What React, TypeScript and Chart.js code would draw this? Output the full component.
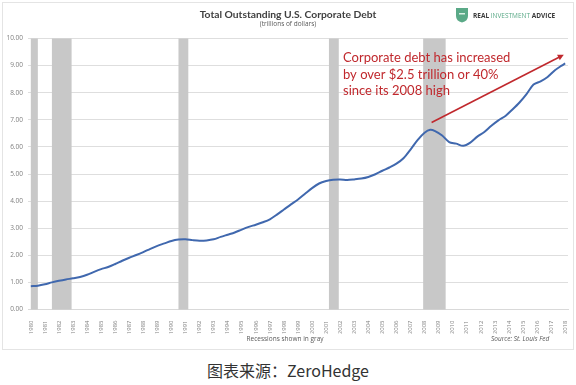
import React, { useEffect, useRef } from "react";
import { Chart, registerables } from "chart.js";

Chart.register(...registerables);

const years: number[] = [
  1980.0, 1980.5, 1981.0, 1981.5, 1982.0, 1982.5, 1983.0, 1983.5, 1984.0, 1984.5,
  1985.0, 1985.5, 1986.0, 1986.5, 1987.0, 1987.5, 1988.0, 1988.5, 1989.0, 1989.5,
  1990.0, 1990.5, 1991.0, 1991.5, 1992.0, 1992.5, 1993.0, 1993.5, 1994.0, 1994.5,
  1995.0, 1995.5, 1996.0, 1996.5, 1997.0, 1997.5, 1998.0, 1998.5, 1999.0, 1999.5,
  2000.0, 2000.5, 2001.0, 2001.5, 2002.0, 2002.5, 2003.0, 2003.5, 2004.0, 2004.5,
  2005.0, 2005.5, 2006.0, 2006.5, 2007.0, 2007.5, 2008.0, 2008.4, 2008.75, 2009.25,
  2009.75, 2010.25, 2010.75, 2011.25, 2011.75, 2012.25, 2012.75, 2013.25, 2013.75, 2014.25,
  2014.75, 2015.25, 2015.75, 2016.25, 2016.75, 2017.25, 2017.75, 2018.0,
];

const debt: number[] = [
  0.86, 0.88, 0.93, 1.0, 1.06, 1.11, 1.15, 1.2, 1.28, 1.39,
  1.49, 1.57, 1.68, 1.8, 1.91, 2.01, 2.12, 2.24, 2.35, 2.44,
  2.53, 2.58, 2.59, 2.56, 2.54, 2.55, 2.59, 2.68, 2.76, 2.84,
  2.95, 3.05, 3.13, 3.22, 3.33, 3.5, 3.69, 3.88, 4.06, 4.27,
  4.48, 4.65, 4.74, 4.79, 4.8, 4.78, 4.8, 4.83, 4.89, 4.99,
  5.12, 5.24, 5.38, 5.58, 5.9, 6.25, 6.52, 6.63, 6.58, 6.42,
  6.18, 6.12, 6.04, 6.16, 6.38, 6.55, 6.78, 6.98, 7.14, 7.38,
  7.64, 7.95, 8.3, 8.42, 8.58, 8.82, 9.0, 9.08,
];

const recessionStarts: number[] = [1980.0, 1981.5, 1990.5, 2001.2, 2007.9];
const recessionEnds: number[] = [1980.5, 1982.9, 1991.2, 2001.9, 2009.5];

const annotationLines: string[] = [
  "Corporate debt has increased",
  "by over $2.5 trillion or 40%",
  "since its 2008 high",
];
const arrowFrom = { x: 2008.5, y: 6.9 };
const arrowTo = { x: 2017.9, y: 9.4 };
const annotationAnchor = { x: 2002.2, y: 9.27 };

const RED = "#c0282d";

const recessionPlugin = {
  id: "recessions",
  beforeDatasetsDraw(chart: any) {
    const { ctx, chartArea, scales } = chart;
    ctx.save();
    ctx.fillStyle = "#c8c8c8";
    for (let i = 0; i < recessionStarts.length; i++) {
      const x1 = scales.x.getPixelForValue(recessionStarts[i]);
      const x2 = scales.x.getPixelForValue(recessionEnds[i]);
      ctx.fillRect(x1, chartArea.top, x2 - x1, chartArea.bottom - chartArea.top);
    }
    ctx.restore();
  },
};

const annotationPlugin = {
  id: "annot",
  afterDatasetsDraw(chart: any) {
    const { ctx, scales } = chart;
    const x1 = scales.x.getPixelForValue(arrowFrom.x);
    const y1 = scales.y.getPixelForValue(arrowFrom.y);
    const x2 = scales.x.getPixelForValue(arrowTo.x);
    const y2 = scales.y.getPixelForValue(arrowTo.y);
    ctx.save();
    ctx.strokeStyle = RED;
    ctx.fillStyle = RED;
    ctx.lineWidth = 1.6;
    const ang = Math.atan2(y2 - y1, x2 - x1);
    const hl = 6;
    ctx.beginPath();
    ctx.moveTo(x1, y1);
    ctx.lineTo(x2 - Math.cos(ang) * hl * 0.8, y2 - Math.sin(ang) * hl * 0.8);
    ctx.stroke();
    ctx.beginPath();
    ctx.moveTo(x2, y2);
    ctx.lineTo(x2 - hl * Math.cos(ang) + 3 * Math.sin(ang), y2 - hl * Math.sin(ang) - 3 * Math.cos(ang));
    ctx.lineTo(x2 - hl * Math.cos(ang) - 3 * Math.sin(ang), y2 - hl * Math.sin(ang) + 3 * Math.cos(ang));
    ctx.closePath();
    ctx.fill();

    const tx = scales.x.getPixelForValue(annotationAnchor.x);
    const ty = scales.y.getPixelForValue(annotationAnchor.y);
    ctx.font = "13px Lato, sans-serif";
    ctx.textBaseline = "middle";
    ctx.textAlign = "left";
    annotationLines.forEach((line, i) => {
      ctx.fillText(line, tx, ty + i * 16.5);
    });
    ctx.restore();
  },
};

export default function App() {
  const ref = useRef<HTMLCanvasElement>(null);

  useEffect(() => {
    if (!ref.current) return;
    const chart = new Chart(ref.current, {
      type: "line",
      data: {
        datasets: [
          {
            data: years.map((y, i) => ({ x: y, y: debt[i] })),
            borderColor: "#4068ae",
            borderWidth: 2,
            pointRadius: 0,
            tension: 0.3,
            fill: false,
          },
        ],
      },
      options: {
        animation: false,
        responsive: false,
        layout: { padding: { top: 38.5, right: 8, bottom: 16.5, left: 0 } },
        plugins: { legend: { display: false }, tooltip: { enabled: false } },
        scales: {
          x: {
            type: "linear",
            min: 1979.8,
            max: 2018.2,
            afterFit: (s: any) => {
              s.height = 24;
            },
            grid: { display: false },
            border: { display: true, color: "#d9d9d9" },
            ticks: {
              stepSize: 1,
              includeBounds: false,
              autoSkip: false,
              minRotation: 90,
              maxRotation: 90,
              padding: 3,
              color: "#7f7f7f",
              font: { size: 6, family: "'Open Sans', sans-serif" },
              callback: (v: any) => String(v),
            },
          },
          y: {
            min: 0,
            max: 10,
            afterFit: (s: any) => {
              s.width = 28;
            },
            grid: { color: "#dedede", lineWidth: 1, drawTicks: false },
            border: { display: false },
            ticks: {
              stepSize: 1,
              padding: 5,
              color: "#7f7f7f",
              font: { size: 6.5, family: "'Open Sans', sans-serif" },
              callback: (v: any) => Number(v).toFixed(2),
            },
          },
        },
      },
      plugins: [recessionPlugin, annotationPlugin],
    } as any);
    return () => chart.destroy();
  }, []);

  return (
    <div
      style={{
        position: "fixed",
        left: 0,
        top: 0,
        width: 576,
        height: 385,
        background: "#fff",
        fontFamily: "'Open Sans', sans-serif",
        overflow: "hidden",
      }}
    >
      <div
        style={{
          position: "absolute",
          left: 2,
          top: 2,
          width: 570,
          height: 346,
          border: "1px solid #e4e4e4",
        }}
      />
      <canvas ref={ref} width={576} height={350} style={{ position: "absolute", left: 0, top: 0 }} />
      <div
        style={{
          position: "absolute",
          left: 0,
          width: 576,
          top: 7,
          textAlign: "center",
          fontSize: 10.3,
          lineHeight: "14px",
          fontWeight: 700,
          color: "#404040",
          fontFamily: "Lato, sans-serif",
        }}
      >
        Total Outstanding U.S. Corporate Debt
      </div>
      <div
        style={{
          position: "absolute",
          left: 0,
          width: 576,
          top: 20,
          textAlign: "center",
          fontSize: 6.5,
          lineHeight: "8px",
          color: "#595959",
        }}
      >
        (trillions of dollars)
      </div>
      <svg style={{ position: "absolute", left: 455, top: 7 }} width={14} height={16} viewBox="0 0 14 16">
        <path d="M1 1 H13 V9 Q13 14 7 15.5 Q1 14 1 9 Z" fill="#5aa987" />
        <rect x="4" y="6" width="6" height="1.5" fill="#d9efe4" />
      </svg>
      <div
        style={{
          position: "absolute",
          left: 473,
          top: 11,
          fontSize: 6.5,
          lineHeight: "9px",
          fontWeight: 700,
          color: "#3a3a3a",
          whiteSpace: "nowrap",
        }}
      >
        REAL <span style={{ color: "#5aa987", fontWeight: 400 }}>INVESTMENT</span> ADVICE
      </div>
      <div
        style={{
          position: "absolute",
          left: 185,
          width: 200,
          top: 334,
          textAlign: "center",
          fontSize: 6.5,
          lineHeight: "9px",
          color: "#595959",
        }}
      >
        Recessions shown in gray
      </div>
      <div
        style={{
          position: "absolute",
          left: 491,
          top: 334,
          fontSize: 6.5,
          lineHeight: "9px",
          fontStyle: "italic",
          color: "#595959",
          whiteSpace: "nowrap",
        }}
      >
        Source: St. Louis Fed
      </div>
      <div
        style={{
          position: "absolute",
          left: 0,
          width: 576,
          top: 360,
          textAlign: "center",
          fontSize: 16,
          lineHeight: "20px",
          color: "#333",
          fontFamily: "'Noto Sans CJK SC', 'Open Sans', sans-serif",
        }}
      >
        图表来源：ZeroHedge
      </div>
    </div>
  );
}
